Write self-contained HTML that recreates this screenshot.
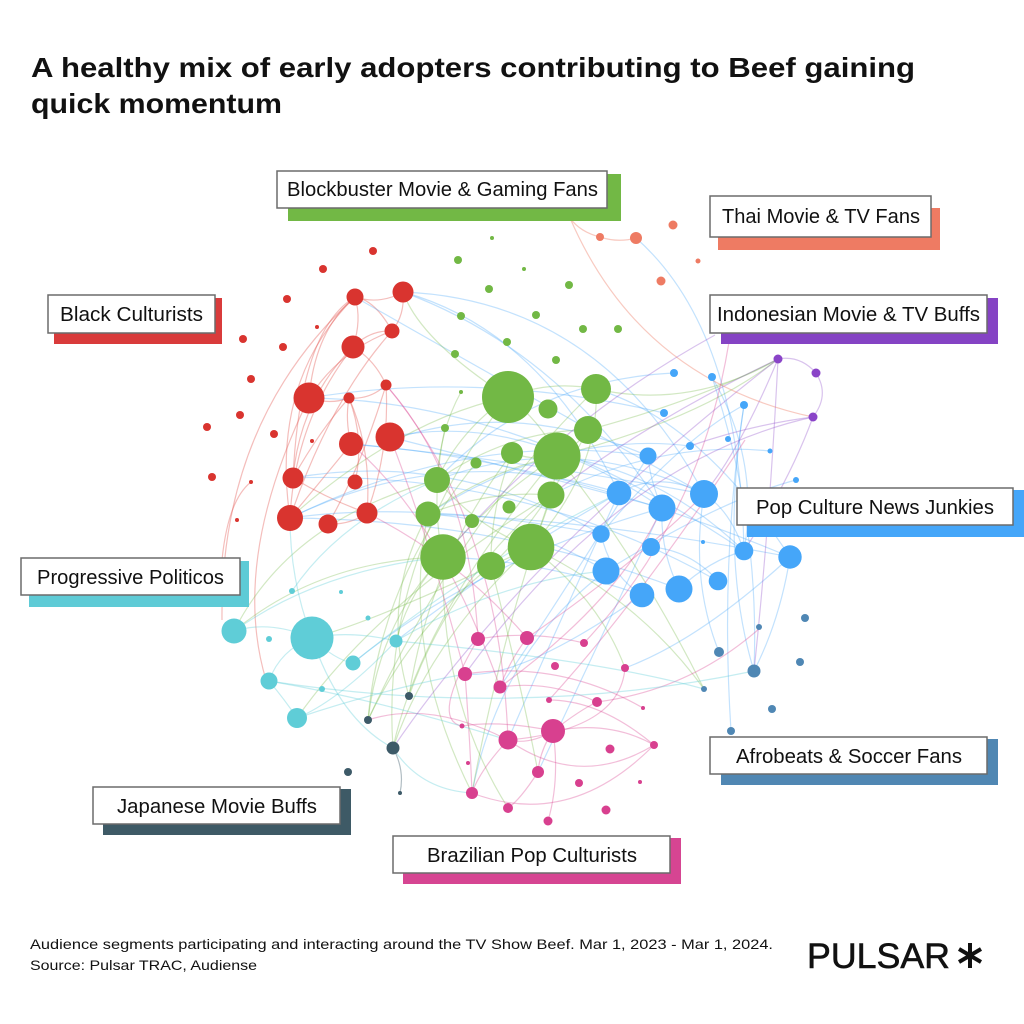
<!DOCTYPE html>
<html><head><meta charset="utf-8"><style>
html,body{margin:0;padding:0;background:#fff;}
svg{display:block;}
text{font-family:"Liberation Sans",Arial,sans-serif;}
</style></head><body>
<svg width="1024" height="1024" viewBox="0 0 1024 1024" xmlns="http://www.w3.org/2000/svg">
<rect width="1024" height="1024" fill="#fff"/>
<!-- Title -->
<text x="31" y="77" font-size="28" font-weight="bold" fill="#111" textLength="884" lengthAdjust="spacingAndGlyphs">A healthy mix of early adopters contributing to Beef gaining</text>
<text x="31" y="113" font-size="28" font-weight="bold" fill="#111" textLength="251" lengthAdjust="spacingAndGlyphs">quick momentum</text>

<!-- Edges -->
<g fill="none" stroke-width="1.2">
<g stroke="#e25550" stroke-opacity="0.38">
<path d="M355 297Q380 305 403 292"/><path d="M355 297Q375 300 392 331"/><path d="M353 347Q370 330 392 331"/>
<path d="M355 297Q362 320 353 347"/><path d="M309 398Q315 330 355 297"/><path d="M309 398Q340 350 392 331"/>
<path d="M309 398Q330 405 349 398"/><path d="M349 398Q370 400 386 385"/><path d="M349 398Q345 420 351 444"/>
<path d="M349 398Q365 440 355 482"/><path d="M293 478Q300 400 353 347"/><path d="M293 478Q320 430 349 398"/>
<path d="M290 518Q270 380 355 297"/><path d="M290 518Q330 400 392 331"/><path d="M328 524Q350 525 367 513"/>
<path d="M367 513Q390 450 386 385"/><path d="M290 518Q295 420 353 347"/><path d="M367 513Q372 450 349 398"/>
<path d="M355 297Q220 420 222 620"/><path d="M251 482Q228 500 222 560"/><path d="M309 398Q230 560 266 680"/>
<path d="M403 292Q405 315 392 331"/><path d="M353 347Q375 360 386 385"/><path d="M290 518Q330 470 351 444"/>
<path d="M293 478Q330 500 367 513"/><path d="M355 297Q300 330 293 478"/><path d="M386 385Q360 470 328 524"/>
</g>
<g stroke="#45a6f9" stroke-opacity="0.32">
<path d="M619 493Q450 440 290 518"/><path d="M662 508Q520 410 390 437"/><path d="M704 494Q570 430 437 480"/>
<path d="M648 456Q520 400 400 437"/><path d="M601 534Q450 450 293 478"/><path d="M606 571Q520 520 428 514"/>
<path d="M642 595Q540 560 443 557"/><path d="M744 551Q660 470 557 456"/><path d="M790 557Q700 420 596 389"/>
<path d="M403 292Q540 330 619 493"/><path d="M403 292Q560 350 662 508"/><path d="M636 238Q740 330 744 551"/>
<path d="M744 405Q720 560 754 671"/><path d="M704 494Q690 580 719 652"/><path d="M790 557Q780 620 754 671"/>
<path d="M619 493Q660 470 704 494"/><path d="M662 508Q660 550 679 589"/><path d="M601 534Q610 575 642 595"/>
<path d="M651 547Q690 550 718 581"/><path d="M744 551Q710 560 679 589"/><path d="M648 456Q650 480 662 508"/>
<path d="M704 494Q730 510 744 551"/><path d="M606 571Q500 650 472 793"/><path d="M619 493Q500 560 396 641"/>
<path d="M662 508Q480 560 353 663"/><path d="M664 413Q480 370 309 398"/><path d="M674 373Q530 380 437 480"/>
<path d="M770 451Q660 440 551 495"/><path d="M796 480Q720 500 606 571"/><path d="M690 446Q560 430 428 514"/>
<path d="M648 456Q470 430 290 518"/><path d="M712 377Q760 460 744 551"/><path d="M744 405Q680 440 601 534"/>
<path d="M744 405Q720 560 731 731"/><path d="M712 377Q760 520 754 671"/><path d="M662 508Q520 470 390 437"/>
<path d="M704 494Q520 460 351 444"/><path d="M790 557Q600 520 428 514"/><path d="M601 534Q420 500 290 518"/>
<path d="M619 493Q560 620 508 740"/><path d="M642 595Q520 680 465 674"/>
<path d="M744 551Q520 400 309 398"/><path d="M790 557Q560 460 351 444"/><path d="M718 581Q520 470 293 478"/>
<path d="M679 589Q500 520 290 518"/><path d="M704 494Q500 380 355 297"/><path d="M403 292Q600 300 704 494"/>
<path d="M648 456Q560 600 500 687"/><path d="M662 508Q600 640 538 772"/><path d="M790 557Q700 640 625 668"/>
</g>
<g stroke="#72b845" stroke-opacity="0.32">
<path d="M508 397Q550 380 596 389"/><path d="M508 397Q540 420 557 456"/><path d="M508 397Q460 430 437 480"/>
<path d="M557 456Q490 500 443 557"/><path d="M557 456Q555 500 531 547"/><path d="M437 480Q480 530 531 547"/>
<path d="M428 514Q490 470 557 456"/><path d="M443 557Q380 620 368 720"/><path d="M531 547Q430 640 393 748"/>
<path d="M491 566Q410 630 368 720"/><path d="M551 495Q450 580 409 696"/><path d="M508 397Q380 560 393 748"/>
<path d="M443 557Q320 560 234 631"/><path d="M437 480Q290 520 234 631"/><path d="M596 389Q690 410 778 359"/>
<path d="M588 430Q700 400 778 359"/><path d="M557 456Q700 420 778 359"/><path d="M531 547Q640 600 704 689"/>
<path d="M491 566Q520 680 538 772"/><path d="M443 557Q440 700 508 808"/><path d="M428 514Q400 650 472 793"/>
<path d="M551 495Q500 640 472 793"/><path d="M512 453Q430 560 409 696"/><path d="M461 392Q440 430 437 480"/>
<path d="M588 430Q510 430 437 480"/><path d="M551 495Q490 490 428 514"/><path d="M531 547Q600 600 625 668"/>
<path d="M596 389Q600 470 531 547"/><path d="M512 453Q490 510 491 566"/><path d="M476 463Q380 580 368 720"/>
<path d="M443 557Q410 590 396 641"/><path d="M551 495Q380 600 297 718"/><path d="M508 397Q400 420 290 518"/>
<path d="M557 456Q640 560 704 689"/><path d="M531 547Q380 620 312 638"/><path d="M588 430Q540 520 491 566"/>
<path d="M445 428Q430 500 443 557"/><path d="M512 453Q560 470 588 430"/><path d="M428 514Q380 600 409 696"/>
<path d="M596 389Q460 520 368 720"/><path d="M557 456Q420 620 393 748"/><path d="M508 397Q420 340 403 292"/>
</g>
<g stroke="#d8408f" stroke-opacity="0.34">
<path d="M553 731Q530 745 508 740"/><path d="M553 731Q580 710 597 702"/><path d="M553 731Q610 720 654 745"/>
<path d="M553 731Q540 750 538 772"/><path d="M508 740Q480 770 472 793"/><path d="M508 740Q580 790 654 745"/>
<path d="M472 793Q570 830 654 745"/><path d="M549 700Q600 700 654 745"/><path d="M478 639Q470 480 386 385"/>
<path d="M465 674Q430 540 390 437"/><path d="M500 687Q440 520 351 444"/><path d="M527 638Q460 560 367 513"/>
<path d="M478 639Q530 630 584 643"/><path d="M465 674Q560 660 643 708"/><path d="M500 687Q550 680 597 702"/>
<path d="M462 726Q500 720 553 731"/><path d="M538 772Q520 800 508 808"/><path d="M527 638Q510 660 500 687"/>
<path d="M500 687Q620 600 662 508"/><path d="M597 702Q690 690 760 628"/><path d="M527 638Q640 560 704 494"/>
<path d="M368 720Q430 700 508 740"/><path d="M729 342Q700 520 584 643"/><path d="M745 440Q640 600 549 700"/>
<path d="M386 385Q500 520 508 740"/><path d="M465 674Q470 740 472 793"/><path d="M553 731Q560 780 548 821"/>
<path d="M508 740Q620 730 625 668"/><path d="M478 639Q430 720 462 726"/>
</g>
<g stroke="#5fcdd7" stroke-opacity="0.36">
<path d="M312 638Q350 630 396 641"/><path d="M312 638Q335 660 353 663"/><path d="M312 638Q270 620 234 631"/>
<path d="M269 681Q280 650 312 638"/><path d="M297 718Q340 700 396 641"/><path d="M269 681Q285 700 297 718"/>
<path d="M312 638Q340 720 393 748"/><path d="M297 718Q380 690 465 674"/><path d="M269 681Q380 700 508 740"/>
<path d="M234 631Q320 570 443 557"/><path d="M292 591Q340 520 437 480"/><path d="M396 641Q500 580 606 571"/>
<path d="M393 748Q420 790 472 793"/><path d="M353 663Q480 560 619 493"/><path d="M269 681Q520 720 754 671"/>
<path d="M312 638Q290 580 290 518"/><path d="M396 641Q600 660 704 689"/>
</g>
<g stroke="#8a44c8" stroke-opacity="0.32">
<path d="M778 359Q800 355 816 373"/><path d="M816 373Q830 395 813 417"/><path d="M813 417Q750 425 690 446"/>
<path d="M778 359Q740 450 704 494"/><path d="M778 359Q650 420 551 495"/><path d="M715 335Q560 420 443 557"/>
<path d="M813 417Q790 480 744 551"/><path d="M778 359Q770 520 754 671"/><path d="M778 359Q520 560 393 748"/>
<path d="M813 417Q620 460 465 674"/>
</g>
<g stroke="#ee7b63" stroke-opacity="0.4">
<path d="M600 237Q618 243 636 238"/><path d="M570 218Q580 232 600 237"/><path d="M570 218Q640 380 813 417"/>
</g>
<path d="M393 748Q405 770 400 793" stroke="#3d5a68" stroke-opacity="0.4"/>
</g>

<!-- Nodes -->
<g fill="#d9342f">
<circle cx="373" cy="251" r="4"/><circle cx="323" cy="269" r="4"/><circle cx="287" cy="299" r="4"/><circle cx="355" cy="297" r="8.5"/>
<circle cx="403" cy="292" r="10.5"/><circle cx="317" cy="327" r="2"/><circle cx="392" cy="331" r="7.5"/><circle cx="243" cy="339" r="4"/>
<circle cx="283" cy="347" r="4"/><circle cx="353" cy="347" r="11.5"/><circle cx="251" cy="379" r="4"/><circle cx="309" cy="398" r="15.5"/>
<circle cx="349" cy="398" r="5.5"/><circle cx="386" cy="385" r="5.5"/><circle cx="240" cy="415" r="4"/><circle cx="207" cy="427" r="4"/>
<circle cx="274" cy="434" r="4"/><circle cx="312" cy="441" r="2"/><circle cx="351" cy="444" r="12"/><circle cx="390" cy="437" r="14.5"/>
<circle cx="212" cy="477" r="4"/><circle cx="251" cy="482" r="2"/><circle cx="293" cy="478" r="10.5"/><circle cx="355" cy="482" r="7.5"/>
<circle cx="237" cy="520" r="2"/><circle cx="290" cy="518" r="13"/><circle cx="328" cy="524" r="9.5"/><circle cx="367" cy="513" r="10.5"/>
</g>
<g fill="#72b845">
<circle cx="492" cy="238" r="2"/><circle cx="458" cy="260" r="4"/><circle cx="524" cy="269" r="2"/><circle cx="489" cy="289" r="4"/>
<circle cx="569" cy="285" r="4"/><circle cx="461" cy="316" r="4"/><circle cx="536" cy="315" r="4"/><circle cx="583" cy="329" r="4"/>
<circle cx="618" cy="329" r="4"/><circle cx="507" cy="342" r="4"/><circle cx="455" cy="354" r="4"/><circle cx="556" cy="360" r="4"/>
<circle cx="461" cy="392" r="2"/><circle cx="508" cy="397" r="26"/><circle cx="596" cy="389" r="15"/><circle cx="548" cy="409" r="9.5"/>
<circle cx="445" cy="428" r="4"/><circle cx="588" cy="430" r="14"/><circle cx="512" cy="453" r="11"/><circle cx="557" cy="456" r="23.5"/>
<circle cx="476" cy="463" r="5.5"/><circle cx="437" cy="480" r="13"/><circle cx="551" cy="495" r="13.5"/><circle cx="509" cy="507" r="6.5"/>
<circle cx="428" cy="514" r="12.5"/><circle cx="472" cy="521" r="7"/><circle cx="443" cy="557" r="22.7"/><circle cx="531" cy="547" r="23.3"/>
<circle cx="491" cy="566" r="14"/>
</g>
<g fill="#45a6f9">
<circle cx="674" cy="373" r="4"/><circle cx="712" cy="377" r="4"/><circle cx="664" cy="413" r="4"/><circle cx="744" cy="405" r="4"/>
<circle cx="690" cy="446" r="4"/><circle cx="728" cy="439" r="3"/><circle cx="770" cy="451" r="2.5"/><circle cx="648" cy="456" r="8.5"/>
<circle cx="796" cy="480" r="3"/><circle cx="619" cy="493" r="12.3"/><circle cx="662" cy="508" r="13.5"/><circle cx="704" cy="494" r="14"/>
<circle cx="601" cy="534" r="8.7"/><circle cx="651" cy="547" r="9"/><circle cx="703" cy="542" r="2"/><circle cx="744" cy="551" r="9.3"/>
<circle cx="790" cy="557" r="11.7"/><circle cx="606" cy="571" r="13.5"/><circle cx="642" cy="595" r="12.3"/><circle cx="679" cy="589" r="13.5"/>
<circle cx="718" cy="581" r="9.3"/>
</g>
<g fill="#ee7b63">
<circle cx="673" cy="225" r="4.5"/><circle cx="600" cy="237" r="4"/><circle cx="636" cy="238" r="6"/><circle cx="698" cy="261" r="2.5"/><circle cx="661" cy="281" r="4.5"/>
</g>
<g fill="#8a44c8">
<circle cx="778" cy="359" r="4.5"/><circle cx="816" cy="373" r="4.5"/><circle cx="813" cy="417" r="4.5"/>
</g>
<g fill="#5fcdd7">
<circle cx="292" cy="591" r="3"/><circle cx="341" cy="592" r="2"/><circle cx="368" cy="618" r="2.5"/><circle cx="234" cy="631" r="12.5"/>
<circle cx="269" cy="639" r="3"/><circle cx="312" cy="638" r="21.5"/><circle cx="396" cy="641" r="6.5"/><circle cx="353" cy="663" r="7.5"/>
<circle cx="269" cy="681" r="8.5"/><circle cx="322" cy="689" r="3"/><circle cx="297" cy="718" r="10"/>
</g>
<g fill="#3d5a68">
<circle cx="409" cy="696" r="4"/><circle cx="368" cy="720" r="4"/><circle cx="393" cy="748" r="6.5"/><circle cx="348" cy="772" r="4"/><circle cx="400" cy="793" r="2"/>
</g>
<g fill="#4f87b4">
<circle cx="805" cy="618" r="4"/><circle cx="759" cy="627" r="3"/><circle cx="719" cy="652" r="5"/><circle cx="800" cy="662" r="4"/>
<circle cx="754" cy="671" r="6.5"/><circle cx="704" cy="689" r="3"/><circle cx="772" cy="709" r="4"/><circle cx="731" cy="731" r="4"/>
</g>
<g fill="#d8408f">
<circle cx="478" cy="639" r="7"/><circle cx="527" cy="638" r="7"/><circle cx="584" cy="643" r="4"/><circle cx="465" cy="674" r="7"/>
<circle cx="555" cy="666" r="4"/><circle cx="625" cy="668" r="4"/><circle cx="500" cy="687" r="6.5"/><circle cx="549" cy="700" r="3"/>
<circle cx="597" cy="702" r="5"/><circle cx="643" cy="708" r="2"/><circle cx="462" cy="726" r="2.5"/><circle cx="508" cy="740" r="9.5"/>
<circle cx="553" cy="731" r="12"/><circle cx="610" cy="749" r="4.5"/><circle cx="654" cy="745" r="4"/><circle cx="468" cy="763" r="2"/>
<circle cx="538" cy="772" r="6"/><circle cx="579" cy="783" r="4"/><circle cx="640" cy="782" r="2"/><circle cx="472" cy="793" r="6"/>
<circle cx="508" cy="808" r="5"/><circle cx="606" cy="810" r="4.5"/><circle cx="548" cy="821" r="4.5"/>
</g>

<!-- Labels -->
<g font-size="20" fill="#111">
<rect x="288" y="174" width="333" height="47" fill="#72b845"/>
<rect x="277" y="171" width="330" height="37" fill="#fff" stroke="#6b6b6b" stroke-width="1.5"/>
<text x="287" y="196" textLength="311" lengthAdjust="spacingAndGlyphs">Blockbuster Movie &amp; Gaming Fans</text>

<rect x="718" y="208" width="222" height="42" fill="#ee7b63"/>
<rect x="710" y="196" width="221" height="41" fill="#fff" stroke="#6b6b6b" stroke-width="1.5"/>
<text x="722" y="223" textLength="198" lengthAdjust="spacingAndGlyphs">Thai Movie &amp; TV Fans</text>

<rect x="721" y="298" width="277" height="46" fill="#8543c4"/>
<rect x="710" y="295" width="277" height="38" fill="#fff" stroke="#6b6b6b" stroke-width="1.5"/>
<text x="717" y="321" textLength="263" lengthAdjust="spacingAndGlyphs">Indonesian Movie &amp; TV Buffs</text>

<rect x="747" y="490" width="290" height="47" fill="#45a6f9"/>
<rect x="737" y="488" width="276" height="37" fill="#fff" stroke="#6b6b6b" stroke-width="1.5"/>
<text x="756" y="514" textLength="238" lengthAdjust="spacingAndGlyphs">Pop Culture News Junkies</text>

<rect x="54" y="298" width="168" height="46" fill="#d93b3b"/>
<rect x="48" y="295" width="167" height="38" fill="#fff" stroke="#6b6b6b" stroke-width="1.5"/>
<text x="60" y="321" textLength="143" lengthAdjust="spacingAndGlyphs">Black Culturists</text>

<rect x="29" y="561" width="220" height="46" fill="#5ecbd6"/>
<rect x="21" y="558" width="219" height="37" fill="#fff" stroke="#6b6b6b" stroke-width="1.5"/>
<text x="37" y="584" textLength="187" lengthAdjust="spacingAndGlyphs">Progressive Politicos</text>

<rect x="103" y="789" width="248" height="46" fill="#3e5a66"/>
<rect x="93" y="787" width="247" height="37" fill="#fff" stroke="#6b6b6b" stroke-width="1.5"/>
<text x="117" y="813" textLength="200" lengthAdjust="spacingAndGlyphs">Japanese Movie Buffs</text>

<rect x="403" y="838" width="278" height="46" fill="#d64592"/>
<rect x="393" y="836" width="277" height="37" fill="#fff" stroke="#6b6b6b" stroke-width="1.5"/>
<text x="427" y="862" textLength="210" lengthAdjust="spacingAndGlyphs">Brazilian Pop Culturists</text>

<rect x="721" y="739" width="277" height="46" fill="#5087b3"/>
<rect x="710" y="737" width="277" height="37" fill="#fff" stroke="#6b6b6b" stroke-width="1.5"/>
<text x="736" y="763" textLength="226" lengthAdjust="spacingAndGlyphs">Afrobeats &amp; Soccer Fans</text>
</g>

<!-- Footer -->
<text x="30" y="949" font-size="14" fill="#111" textLength="743" lengthAdjust="spacingAndGlyphs">Audience segments participating and interacting around the TV Show Beef. Mar 1, 2023 - Mar 1, 2024.</text>
<text x="30" y="970" font-size="14" fill="#111" textLength="227" lengthAdjust="spacingAndGlyphs">Source: Pulsar TRAC, Audiense</text>
<text x="807" y="968" font-size="35" fill="#111" stroke="#111" stroke-width="0.6" textLength="143" lengthAdjust="spacingAndGlyphs">PULSAR</text>
<g stroke="#111" stroke-width="4" stroke-linecap="butt">
<line x1="970" y1="943" x2="970" y2="968"/>
<line x1="959" y1="949" x2="981" y2="962"/>
<line x1="959" y1="962" x2="981" y2="949"/>
</g>
</svg>
</body></html>
